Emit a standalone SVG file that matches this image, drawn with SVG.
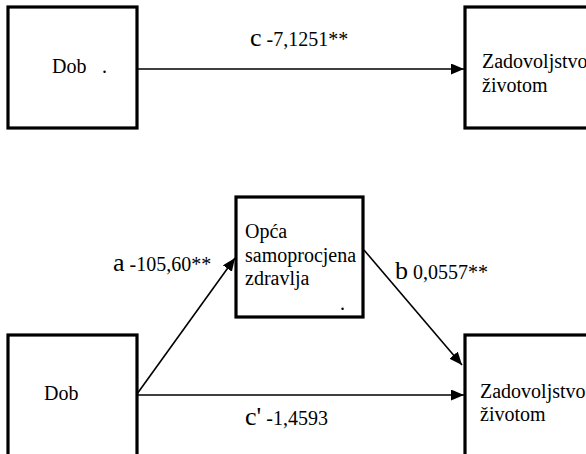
<svg xmlns="http://www.w3.org/2000/svg" width="586" height="454" viewBox="0 0 586 454">
  <defs>
    <marker id="arr" viewBox="0 0 13 11" refX="13" refY="5.5" markerWidth="13" markerHeight="11" markerUnits="userSpaceOnUse" orient="auto">
      <path d="M0,0 L13,5.5 L0,11 Z" fill="#000"/>
    </marker>
    <style>
      .box { fill: #fff; stroke: #000; stroke-width: 3.2; }
      text { font-family: 'Liberation Serif', 'DejaVu Serif', 'Times New Roman', serif; font-size: 20px; fill: #000; }
      .big { font-size: 26px; }
      .edge { stroke: #000; stroke-width: 1.6; fill: none; marker-end: url(#arr); }
    </style>
  </defs>
  <rect width="586" height="454" fill="#fff"/>

  <g id="dob-top" font-family="Liberation Serif, serif">
    <rect class="box" x="8" y="7" width="129" height="121"/>
    <text x="52" y="73">Dob</text>
    <text x="102" y="73">.</text>
  </g>
  <g id="zadovoljstvo-top" font-family="Liberation Serif, serif">
    <rect class="box" x="465" y="7" width="130" height="121"/>
    <text x="482" y="68">Zadovoljstvo</text>
    <text x="482" y="92">životom</text>
  </g>
  <g id="opca" font-family="Liberation Serif, serif">
    <rect class="box" x="236" y="197" width="127" height="120"/>
    <text x="245" y="238">Opća</text>
    <text x="245" y="262">samoprocjena</text>
    <text x="245" y="285">zdravlja</text>
    <text x="340" y="310">.</text>
  </g>
  <g id="dob-bottom" font-family="Liberation Serif, serif">
    <rect class="box" x="8" y="335" width="129" height="130"/>
    <text x="44" y="400">Dob</text>
  </g>
  <g id="zadovoljstvo-bottom" font-family="Liberation Serif, serif">
    <rect class="box" x="465" y="335" width="130" height="130"/>
    <text x="480" y="398">Zadovoljstvo</text>
    <text x="480" y="421">životom</text>
  </g>

  <g id="connectors" font-family="Liberation Serif, serif">
    <line class="edge" x1="137" y1="69" x2="464" y2="69"/>
    <line class="edge" x1="137" y1="394" x2="235" y2="258"/>
    <line class="edge" x1="364" y1="250" x2="462" y2="365"/>
    <line class="edge" x1="137" y1="395" x2="464" y2="395"/>
    <text x="250" y="46"><tspan class="big">c</tspan> -7,1251**</text>
    <text x="113" y="271"><tspan class="big">a</tspan> -105,60**</text>
    <text x="395" y="279"><tspan class="big">b</tspan> 0,0557**</text>
    <text x="245" y="425"><tspan class="big">c'</tspan> -1,4593</text>
  </g>
</svg>
